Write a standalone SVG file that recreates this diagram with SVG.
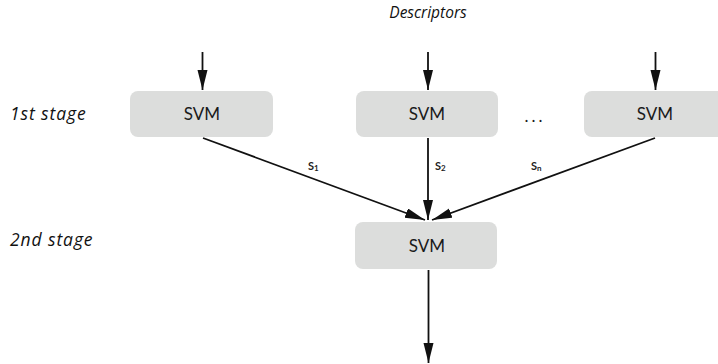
<svg xmlns="http://www.w3.org/2000/svg" width="718" height="364" viewBox="0 0 718 364">
<style>
.box{fill:#dcdddc;}
.lbl{font-family:Lato,"Open Sans",sans-serif;font-size:17px;fill:#1a1a1a;text-anchor:middle;}
.it{font-family:"Open Sans",Lato,sans-serif;font-style:italic;fill:#111;}
.sub{font-family:Lato,"Open Sans",sans-serif;font-size:11px;font-weight:bold;fill:#222;}
.conn line{stroke:#111;stroke-width:1.8;fill:none;marker-end:url(#ah);}
</style>
<defs>
<marker id="ah" markerUnits="userSpaceOnUse" markerWidth="22" markerHeight="12" refX="20" refY="5" orient="auto">
<path d="M0,0 L20,5 L0,10 Z" fill="#111"/>
</marker>
</defs>
<text class="it" x="428" y="18" text-anchor="middle" font-size="15.5">Descriptors</text>
<text class="it" x="10" y="120" font-size="17.5" letter-spacing="0.9">1st stage</text>
<text class="it" x="10" y="246" font-size="17.5" letter-spacing="0.9">2nd stage</text>
<g id="svm1"><rect class="box" x="130" y="91" width="143" height="46" rx="8"/><text class="lbl" x="202" y="120">SVM</text></g>
<g id="svm2"><rect class="box" x="356" y="91" width="142" height="46" rx="8"/><text class="lbl" x="427" y="120">SVM</text></g>
<g id="svm3"><rect class="box" x="584" y="91" width="143" height="46" rx="8"/><text class="lbl" x="655" y="120">SVM</text></g>
<g id="svm4"><rect class="box" x="355" y="222" width="142" height="47" rx="8"/><text class="lbl" x="427" y="252">SVM</text></g>
<text class="lbl" x="535" y="122" font-size="18" letter-spacing="3">...</text>
<g class="conn">
<line x1="202.5" y1="52" x2="202.5" y2="90"/>
<line x1="428" y1="52" x2="428" y2="90"/>
<line x1="655.5" y1="52" x2="655.5" y2="90"/>
<line x1="203" y1="138" x2="425" y2="220"/>
<line x1="428" y1="138" x2="428" y2="220"/>
<line x1="655" y1="138" x2="432" y2="220"/>
<line x1="428.5" y1="270" x2="428.5" y2="363"/>
</g>
<text class="sub" x="308" y="170">S<tspan font-size="8" dy="1">1</tspan></text>
<text class="sub" x="435" y="170">S<tspan font-size="8" dy="1">2</tspan></text>
<text class="sub" x="531" y="170">S<tspan font-size="8" dy="1">n</tspan></text>
</svg>
